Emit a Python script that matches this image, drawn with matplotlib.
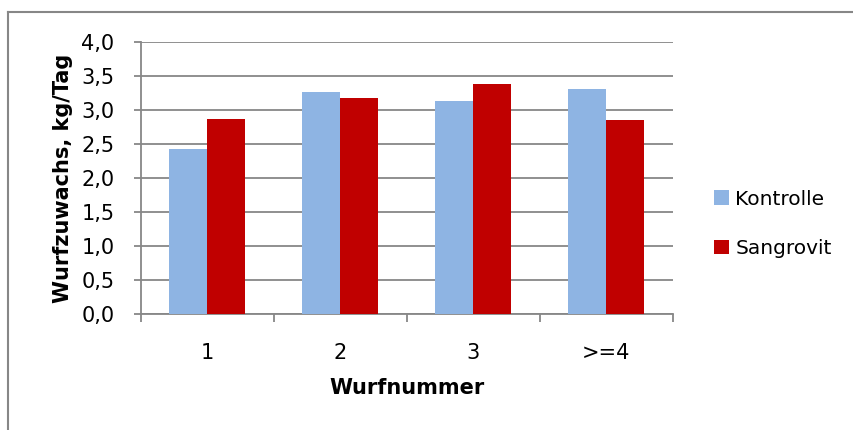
import matplotlib
matplotlib.use("Agg")
import matplotlib.pyplot as plt
from matplotlib.lines import Line2D
import numpy as np

categories = ["1", "2", "3", ">=4"]
kontrolle = [2.43, 3.27, 3.13, 3.31]
sangrovit = [2.87, 3.17, 3.38, 2.86]
series_names = ["Kontrolle", "Sangrovit"]
y_ticks = [0.0, 0.5, 1.0, 1.5, 2.0, 2.5, 3.0, 3.5, 4.0]
y_label = "Wurfzuwachs, kg/Tag"
x_label = "Wurfnummer"

plt.rcParams['font.family'] = ['DejaVu Sans']
FS = 15

fig = plt.figure(figsize=(8.54, 4.30), dpi=100)
W, H = 854, 430
ax = fig.add_axes([141 / W, (H - 314) / H, (672.6 - 141) / W, 272 / H])

x = np.arange(len(categories))
bw = 1 / 3.5
c_k = "#8EB4E3"
c_s = "#C00000"
ax.bar(x - bw / 2, kontrolle, bw, color=c_k, label=series_names[0], zorder=3)
ax.bar(x + bw / 2, sangrovit, bw, color=c_s, label=series_names[1], zorder=3)

grid_c = "#878787"
ax.set_xlim(-0.5, len(categories) - 0.5)
ax.set_ylim(0, 4.0)
ax.set_yticks(y_ticks)
ax.set_yticklabels([f"{v:.1f}".replace(".", ",") for v in y_ticks], fontsize=FS)
ax.yaxis.grid(True, color=grid_c, linewidth=1.3, zorder=0)
ax.set_axisbelow(True)

ax.set_xticks(x)
ax.set_xticklabels(categories, fontsize=FS)
ax.set_xticks(np.arange(-0.5, len(categories)), minor=True)
ax.tick_params(axis='x', which='major', length=0, pad=21)
ax.tick_params(axis='x', which='minor', length=6, width=1.3, color=grid_c, direction='out')
ax.tick_params(axis='y', which='major', length=5, width=1.3, color=grid_c, direction='out', pad=14)

for s in ["top", "right"]:
    ax.spines[s].set_visible(False)
for s in ["left", "bottom"]:
    ax.spines[s].set_color(grid_c)
    ax.spines[s].set_linewidth(1.3)

ax.set_xlabel(x_label, fontsize=FS, fontweight='bold', labelpad=11)
ax.set_ylabel(y_label, fontsize=FS, fontweight='bold', labelpad=6)

leg = ax.legend(loc='center left', bbox_to_anchor=(714 / W, (H - 224) / H),
                bbox_transform=fig.transFigure, frameon=False, fontsize=14.5,
                handlelength=0.75, handleheight=0.75, handletextpad=0.3,
                labelspacing=1.5, borderpad=0, borderaxespad=0)

# outer chart border (top and left visible)
fig.add_artist(Line2D([8 / W, 8 / W], [0, (H - 12) / H], transform=fig.transFigure,
                      color=grid_c, linewidth=1.5))
fig.add_artist(Line2D([8 / W, 1], [(H - 12) / H, (H - 12) / H], transform=fig.transFigure,
                      color=grid_c, linewidth=1.5))

fig.savefig("out.png", dpi=100, facecolor="white")
